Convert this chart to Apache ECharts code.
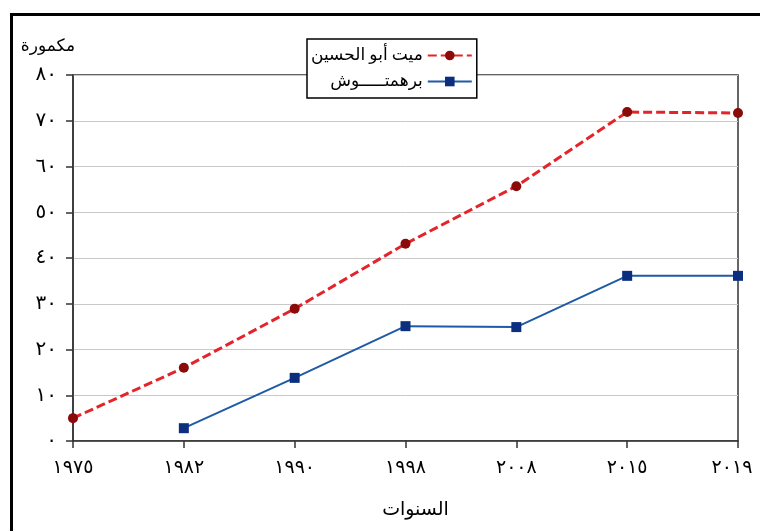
<!DOCTYPE html>
<html>
<head>
<meta charset="utf-8">
<script src="https://cdn.jsdelivr.net/npm/echarts@6/dist/echarts.min.js"></script>
<style>
html,body{margin:0;padding:0;background:#fff;}
#chart{width:760px;height:531px;}
</style>
</head>
<body>
<div id="chart"></div>
<script>
var categories = ['١٩٧٥', '١٩٨٢', '١٩٩٠', '١٩٩٨', '٢٠٠٨', '٢٠١٥', '٢٠١٩'];
var seriesNames = ['ميت أبو الحسين', 'برهمتـــــوش'];
var mitAbuElHussein = [5.0, 16.0, 28.9, 43.1, 55.7, 71.9, 71.7];
var barhamtoush = [null, 2.8, 13.8, 25.1, 24.9, 36.1, 36.1];
var yTickLabels = ['٠', '١٠', '٢٠', '٣٠', '٤٠', '٥٠', '٦٠', '٧٠', '٨٠'];
var xAxisName = 'السنوات';
var yAxisName = 'مكمورة';

var FONT = "'Liberation Serif', 'DejaVu Serif', 'DejaVu Sans', serif";
var xData = categories.map(function (c, i) {
  return i === categories.length - 1 ? {value: c, textStyle: {padding: [0, 12, 0, 0]}} : c;
});
var chart = echarts.init(document.getElementById('chart'), null, {renderer: 'canvas'});
chart.setOption({
  animation: false,
  backgroundColor: '#fff',
  textStyle: {fontFamily: FONT},
  grid: {left: 73, right: 22, top: 75, bottom: 90, outerBoundsMode: 'none', containLabel: false,
    show: true, borderColor: '#333', borderWidth: 1.5, backgroundColor: 'transparent'},
  graphic: [{
    type: 'rect', left: 9, top: 12, z: 100, silent: true,
    shape: {width: 800, height: 600},
    style: {fill: 'none', stroke: '#000', lineWidth: 3}
  }],
  legend: {
    orient: 'vertical',
    left: 307, top: 39,
    align: 'right',
    backgroundColor: '#fff',
    borderColor: '#000',
    borderWidth: 1.5,
    padding: [8, 4, 8, 4],
    itemWidth: 44,
    itemHeight: 12,
    itemGap: 9,
    z: 10,
    textStyle: {fontFamily: FONT, fontSize: 17, color: '#000'},
    data: seriesNames
  },
  xAxis: {
    type: 'category',
    data: xData,
    boundaryGap: false,
    name: xAxisName,
    nameLocation: 'middle',
    nameGap: 60,
    nameTextStyle: {fontSize: 19, color: '#000', fontFamily: FONT, padding: [0, 0, 0, 20]},
    axisLine: {lineStyle: {color: '#333', width: 1.5}},
    axisTick: {show: true, length: 7, lineStyle: {color: '#333', width: 1.5}},
    axisLabel: {fontSize: 19, color: '#000', margin: 18, fontFamily: FONT},
    splitLine: {show: false}
  },
  yAxis: {
    type: 'value',
    min: 0, max: 80, interval: 10,
    name: yAxisName,
    nameLocation: 'end',
    nameGap: 20,
    nameTextStyle: {fontSize: 17, color: '#000', align: 'right', fontFamily: FONT, padding: [0, -2, 0, 0]},
    axisLine: {show: true, lineStyle: {color: '#333', width: 1.5}},
    axisTick: {show: true, length: 7, lineStyle: {color: '#333', width: 1.5}},
    axisLabel: {fontSize: 20, color: '#000', margin: 16, fontFamily: FONT,
      formatter: function (v) { return yTickLabels[Math.round(v / 10)]; }},
    splitLine: {show: true, lineStyle: {color: '#c8c8c8', width: 1}}
  },
  series: [{
    name: seriesNames[0],
    type: 'line',
    data: mitAbuElHussein,
    symbol: 'circle',
    symbolSize: 10,
    itemStyle: {color: '#8b0a0a'},
    lineStyle: {color: '#e3242b', width: 3, type: [9, 4]},
    z: 3
  }, {
    name: seriesNames[1],
    type: 'line',
    data: barhamtoush,
    symbol: 'rect',
    symbolSize: 10,
    connectNulls: false,
    itemStyle: {color: '#0b2f7e'},
    lineStyle: {color: '#1f5aa6', width: 2},
    z: 2
  }]
});
</script>
</body>
</html>
